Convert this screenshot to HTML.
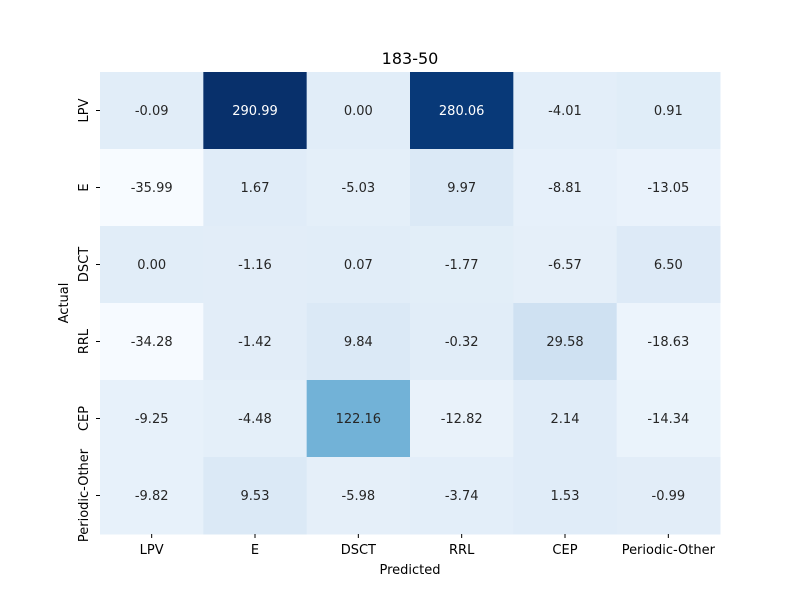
<!DOCTYPE html>
<html><head><meta charset="utf-8"><style>
body{margin:0;background:#fff;font-family:"DejaVu Sans","Liberation Sans",sans-serif;}
</style></head><body>
<svg id="chart" width="800" height="600" xmlns="http://www.w3.org/2000/svg" font-family="DejaVu Sans, Liberation Sans, sans-serif">
<text x="410" y="64" text-anchor="middle" font-size="16" fill="#000">183-50</text>
<g id="cells"></g>
<g id="xt"></g>
<g id="yt"></g>
<text x="410" y="574" text-anchor="middle" font-size="13" fill="#000">Predicted</text>
<text transform="translate(68,303) rotate(-90)" text-anchor="middle" font-size="13" fill="#000">Actual</text>
</svg>
<script>
const xLabels = ["LPV","E","DSCT","RRL","CEP","Periodic-Other"];
const yLabels = ["LPV","E","DSCT","RRL","CEP","Periodic-Other"];
const values = [
 [-0.09,290.99,0.00,280.06,-4.01,0.91],
 [-35.99,1.67,-5.03,9.97,-8.81,-13.05],
 [0.00,-1.16,0.07,-1.77,-6.57,6.50],
 [-34.28,-1.42,9.84,-0.32,29.58,-18.63],
 [-9.25,-4.48,122.16,-12.82,2.14,-14.34],
 [-9.82,9.53,-5.98,-3.74,1.53,-0.99]
];
const stops=["#f7fbff","#deebf7","#c6dbef","#9ecae1","#6baed6","#4292c6","#2171b5","#08519c","#08306b"];
function hex(h){return [1,3,5].map(i=>parseInt(h.substr(i,2),16));}
function cmap(t){t=Math.max(0,Math.min(1,t));const p=t*8,i=Math.min(7,Math.floor(p)),f=p-i;
 const a=hex(stops[i]),b=hex(stops[i+1]);const c=a.map((v,k)=>Math.round(v+(b[k]-v)*f));
 return c;}
const X0=100,Y0=72,W=620,H=462;
const nx=xLabels.length,ny=yLabels.length,cw=W/nx,ch=H/ny;
const flat=values.flat(),vmin=Math.min(...flat),vmax=Math.max(...flat);
const xs=i=>X0+i*cw, ys=j=>Y0+j*ch;
const NS="http://www.w3.org/2000/svg";
const cells=document.getElementById('cells');
values.forEach((row,j)=>row.forEach((v,i)=>{
 const c=cmap((v-vmin)/(vmax-vmin));
 const r=document.createElementNS(NS,'rect');
 r.setAttribute('x',xs(i));r.setAttribute('y',ys(j));r.setAttribute('width',cw+0.5);r.setAttribute('height',ch+0.5);
 r.setAttribute('fill',`rgb(${c})`);
 
 
 cells.appendChild(r);
 const lum=(0.2126*c[0]+0.7152*c[1]+0.0722*c[2])/255;
 const t=document.createElementNS(NS,'text');
 t.setAttribute('x',xs(i)+cw/2);t.setAttribute('y',ys(j)+ch/2+4.5);
 t.setAttribute('text-anchor','middle');t.setAttribute('font-size','13');
 t.setAttribute('fill',lum<0.408?'#ffffff':'#262626');
 t.textContent=v.toFixed(2);
 
 
 cells.appendChild(t);
}));
const xt=document.getElementById('xt');
xLabels.forEach((l,i)=>{
 const ln=document.createElementNS(NS,'line');
 ln.setAttribute('x1',xs(i)+cw/2);ln.setAttribute('x2',xs(i)+cw/2);ln.setAttribute('y1',Y0+H);ln.setAttribute('y2',Y0+H+4);ln.setAttribute('stroke','#000');
 
 
 xt.appendChild(ln);
 const t=document.createElementNS(NS,'text');
 t.setAttribute('x',xs(i)+cw/2);t.setAttribute('y',Y0+H+20);t.setAttribute('text-anchor','middle');t.setAttribute('font-size','13');
 t.textContent=l;
 
 
 xt.appendChild(t);
});
const yt=document.getElementById('yt');
yLabels.forEach((l,j)=>{
 const ln=document.createElementNS(NS,'line');
 ln.setAttribute('x1',X0-4);ln.setAttribute('x2',X0);ln.setAttribute('y1',ys(j)+ch/2);ln.setAttribute('y2',ys(j)+ch/2);ln.setAttribute('stroke','#000');
 
 
 yt.appendChild(ln);
 const t=document.createElementNS(NS,'text');
 t.setAttribute('transform',`translate(${X0-12},${ys(j)+ch/2}) rotate(-90)`);
 t.setAttribute('text-anchor','middle');t.setAttribute('font-size','13');
 t.textContent=l;
 
 
 yt.appendChild(t);
});
</script>
</body></html>
